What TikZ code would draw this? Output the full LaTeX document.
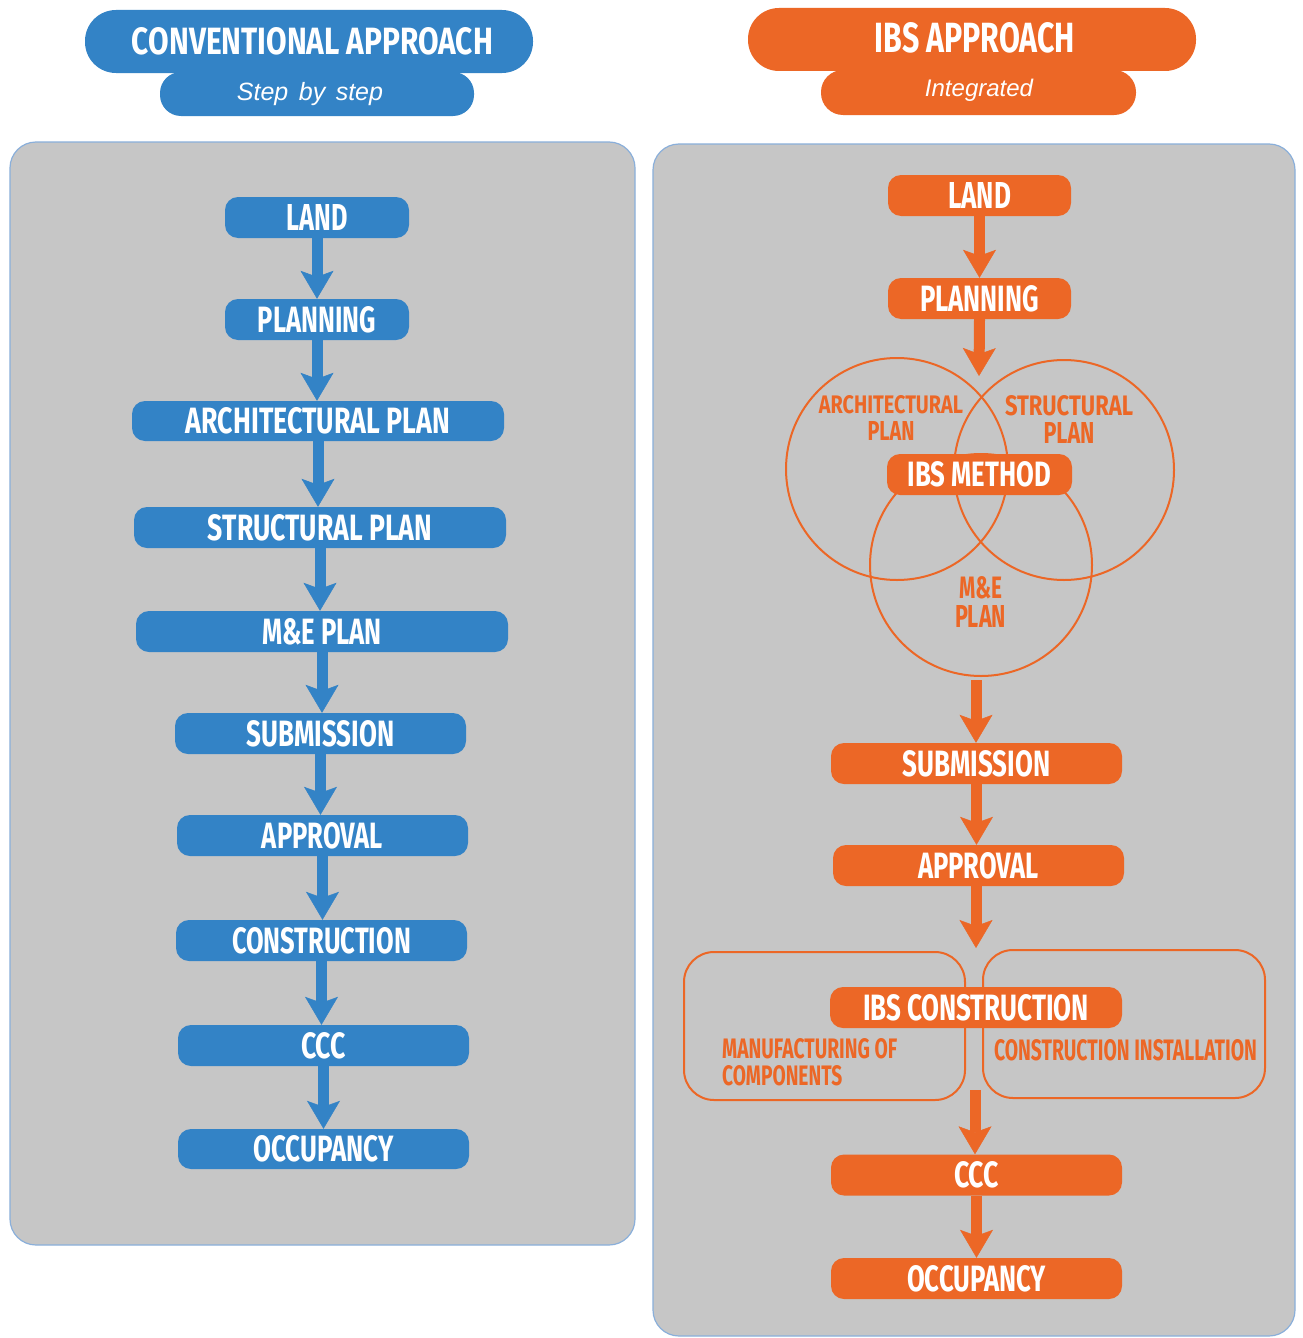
\documentclass[tikz,border=0pt]{standalone}
\usepackage{graphicx}
\usepackage{fontspec}
\setmainfont{Fira Sans}
\newfontfamily\arialish{Liberation Sans}
\usetikzlibrary{arrows.meta}
\definecolor{cblue}{HTML}{3383C6}
\definecolor{corange}{HTML}{EC6726}
\definecolor{cgray}{HTML}{C6C6C6}
\definecolor{cedge}{HTML}{8AAFDA}
\newcommand\fitt[3]{\resizebox{#1pt}{#2pt}{\bfseries #3}}
\begin{document}
\begin{tikzpicture}[x=1pt,y=-1pt,
  box/.style={inner sep=0pt, minimum height=41pt, rounded corners=13pt, text=white},
  bnode/.style={box, fill=cblue},
  onode/.style={box, fill=corange},
  pill/.style={inner sep=0pt, text=white},
  tip/.style={-{Stealth[length=28pt,width=33pt,inset=6pt,line width=0.5pt]}},
  barrow/.style={draw=cblue, line width=11pt, tip},
  oarrow/.style={draw=corange, line width=11pt, tip},
  panel/.style={fill=cgray, draw=cedge, line width=1.2pt, rounded corners=26pt},
  ring/.style={draw=corange, line width=2pt},
  olabel/.style={inner sep=0pt, text=corange, font=\fontsize{10}{27}\selectfont}
]
\useasboundingbox[fill=white] (0,0) rectangle (1302,1338);

% panels
\path[panel] (10,142) rectangle (635,1245);
\path[panel] (653,144) rectangle (1295,1336);

% left header
\node[pill, fill=cblue, rounded corners=21pt, minimum width=314pt, minimum height=44pt] (hls) at (317,94) {};
\node[pill, fill=cblue, rounded corners=31pt, minimum width=448pt, minimum height=63pt] (hl) at (309,41.5) {};
\node[text=white, inner sep=0pt] (hlt) at (312.5,41.5) {\fitt{361}{27}{CONVENTIONAL APPROACH}};
\node[text=white, inner sep=0pt, anchor=base, font=\arialish\itshape\fontsize{25}{30}\selectfont] (hlst) at (310,100) {Step\hspace{10.5pt}by\hspace{10.5pt}step};

% right header
\node[pill, fill=corange, rounded corners=22pt, minimum width=315pt, minimum height=45pt] (hrs) at (978.5,92.5) {};
\node[pill, fill=corange, rounded corners=31pt, minimum width=448pt, minimum height=63pt] (hr) at (972,39.5) {};
\node[text=white, inner sep=0pt] (hrt) at (975,38) {\fitt{200}{30}{IBS APPROACH}};
\node[text=white, inner sep=0pt, anchor=base, font=\arialish\itshape\fontsize{24}{30}\selectfont] (hrst) at (979,96) {Integrated};

% left flow
\node[bnode, minimum width=184pt] (l1) at (317,217.5) {\fitt{61}{26}{LAND}};
\node[bnode, minimum width=184pt] (l2) at (317,319.5) {\fitt{118}{26}{PLANNING}};
\node[bnode, minimum width=372pt, minimum height=40pt] (l3) at (318,421) {\fitt{264}{26}{ARCHITECTURAL PLAN}};
\node[bnode, minimum width=372pt] (l4) at (320,527.5) {\fitt{224}{26}{STRUCTURAL PLAN}};
\node[bnode, minimum width=372pt] (l5) at (322,631.5) {\fitt{120}{26}{M\&E PLAN}};
\node[bnode, minimum width=291pt] (l6) at (320.5,733.5) {\fitt{148}{26}{SUBMISSION}};
\node[bnode, minimum width=291pt] (l7) at (322.5,835.5) {\fitt{121}{26}{APPROVAL}};
\node[bnode, minimum width=291pt] (l8) at (321.5,940.5) {\fitt{179}{26}{CONSTRUCTION}};
\node[bnode, minimum width=291pt] (l9) at (323.5,1045.5) {\fitt{45}{26}{CCC}};
\node[bnode, minimum width=291pt, minimum height=40pt] (l10) at (323.5,1149) {\fitt{140}{26}{OCCUPANCY}};

\foreach \a/\b in {l1/l2,l2/l3,l3/l4,l4/l5,l5/l6,l6/l7,l7/l8,l8/l9,l9/l10}
  \draw[barrow] (\a.south) -- (\a.south |- \b.north);

% right flow
\node[onode, minimum width=183pt] (r1) at (979.5,195.5) {\fitt{63}{26}{LAND}};
\node[onode, minimum width=183pt] (r2) at (979.5,298.5) {\fitt{119}{26}{PLANNING}};

% venn
\draw[ring] (897,469) circle[radius=111pt];
\draw[ring] (1064,470) circle[radius=110pt];
\draw[ring] (981,565) circle[radius=111pt];
\node[onode, minimum width=185pt] (rm) at (979.5,474.5) {\fitt{143}{25}{IBS METHOD}};
\node[olabel, align=center] (va) at (891,417.5) {\fitt{144}{18}{ARCHITECTURAL}\\\fitt{47}{19}{PLAN}};
\node[olabel, align=center, font=\fontsize{10}{28}\selectfont] (vs) at (1069,419.5) {\fitt{128}{20}{STRUCTURAL}\\\fitt{51}{21}{PLAN}};
\node[olabel, align=center, font=\fontsize{10}{29}\selectfont] (vme) at (980.5,602) {\fitt{43}{22}{M\&E}\\\fitt{51}{22}{PLAN}};

\coordinate (vin) at (979,376);
\coordinate (vout) at (976,680);
\draw[oarrow] (r1.south) -- (r1.south |- r2.north);
\draw[oarrow] (r2.south) -- (vin);

\node[onode, minimum width=291pt] (r3) at (976.5,763.5) {\fitt{148}{26}{SUBMISSION}};
\node[onode, minimum width=291pt] (r4) at (978.5,865.5) {\fitt{121}{26}{APPROVAL}};
\draw[oarrow] (vout) -- (vout |- r3.north);
\draw[oarrow] (r3.south) -- (r3.south |- r4.north);

% IBS construction
\draw[ring, rounded corners=30pt] (684,952) rectangle (965,1100);
\draw[ring, rounded corners=30pt] (983,950) rectangle (1265,1098);
\node[onode, minimum width=292pt] (rc) at (976,1007.5) {\fitt{226}{26}{IBS CONSTRUCTION}};
\node[olabel, align=left, anchor=west, font=\fontsize{10}{27}\selectfont] (vman) at (722,1062.5) {\fitt{175}{20}{MANUFACTURING OF}\\\fitt{120}{20}{COMPONENTS}};
\node[olabel] (vci) at (1125.5,1050.5) {\fitt{263}{21}{CONSTRUCTION INSTALLATION}};

\coordinate (cin) at (976,948);
\coordinate (cout) at (975,1090);
\draw[oarrow] (cin |- r4.south) -- (cin);

\node[onode, minimum width=291pt] (r5) at (976.5,1175) {\fitt{45}{26}{CCC}};
\node[onode, minimum width=291pt] (r6) at (976.5,1278.5) {\fitt{139}{26}{OCCUPANCY}};
\draw[oarrow] (cout) -- (cout |- r5.north);
\draw[oarrow] (r5.south) -- (r5.south |- r6.north);
\end{tikzpicture}
\end{document}
